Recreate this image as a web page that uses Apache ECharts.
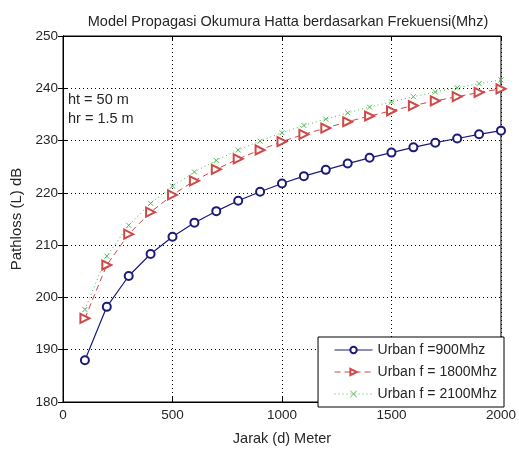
<!DOCTYPE html>
<html><head><meta charset="utf-8">
<script src="https://cdn.jsdelivr.net/npm/echarts@6/dist/echarts.min.js"></script>
<style>html,body{margin:0;padding:0;background:#fff}#c{width:519px;height:451px}</style>
</head><body><div id="c"></div>
<script>
var distances = [100,200,300,400,500,600,700,800,900,1000,1100,1200,1300,1400,1500,1600,1700,1800,1900,2000];
var urban900 = [188.0,198.2,204.1,208.3,211.6,214.3,216.5,218.5,220.2,221.8,223.2,224.4,225.6,226.7,227.7,228.7,229.6,230.4,231.2,231.9];
var urban1800 = [196.0,206.2,212.1,216.3,219.6,222.3,224.5,226.5,228.2,229.8,231.2,232.4,233.6,234.7,235.7,236.7,237.6,238.4,239.2,239.9];
var urban2100 = [197.7,207.9,213.8,218.0,221.3,224.0,226.2,228.2,229.9,231.5,232.9,234.1,235.3,236.4,237.4,238.4,239.3,240.1,240.9,241.6];
var seriesNames = ['Urban f =900Mhz','Urban f = 1800Mhz','Urban f = 2100Mhz'];
var titleText = 'Model Propagasi Okumura Hatta berdasarkan Frekuensi(Mhz)';
var xName = 'Jarak (d) Meter';
var yName = 'Pathloss (L) dB';
var notes = ['ht = 50 m','hr = 1.5 m'];

function pairs(ys){ return distances.map(function(d,i){ return [d, ys[i]]; }); }
var FONT = 'Liberation Sans, Arial, sans-serif';
var TXT = '#262626';
var chart = echarts.init(document.getElementById('c'));
var gridDot = {show:true, lineStyle:{color:'#000', type:[1,3], width:1}};
function plain(v){ return String(v); }
chart.setOption({
  animation:false,
  textStyle:{fontFamily:FONT},
  title:{text:titleText, left:283, textAlign:'center', top:9,
    textStyle:{fontSize:14.5, fontWeight:'normal', color:TXT, fontFamily:FONT}},
  grid:{left:63, right:15, top:36, bottom:44, show:true, borderColor:'#000', borderWidth:1, backgroundColor:'#fff'},
  xAxis:[{type:'value', min:0, max:2000, interval:500, name:xName, nameLocation:'middle', nameGap:29,
    nameTextStyle:{fontSize:14.5, color:TXT, verticalAlign:'top'},
    axisLine:{lineStyle:{color:'#000'}}, axisTick:{inside:true, length:5, lineStyle:{color:'#000'}},
    axisLabel:{fontSize:13.5, color:TXT, margin:6, formatter:plain}, splitLine:gridDot},
    {type:'value', position:'top', min:0, max:2000, interval:500, axisLine:{show:true,lineStyle:{color:'#000'}},
    axisTick:{inside:true,length:5,lineStyle:{color:'#000'}}, axisLabel:{show:false}, splitLine:{show:false}}],
  yAxis:[{type:'value', min:180, max:250, interval:10, name:yName, nameLocation:'middle', nameGap:31,
    nameTextStyle:{fontSize:15, color:TXT},
    axisLine:{show:true, lineStyle:{color:'#000'}}, axisTick:{show:true, inside:true, length:5, lineStyle:{color:'#000'}},
    axisLabel:{fontSize:13.5, color:TXT, margin:5, formatter:plain}, splitLine:gridDot},
    {type:'value', position:'right', min:180, max:250, interval:10, axisLine:{show:true,lineStyle:{color:'#000'}},
    axisTick:{show:true, inside:true,length:5,lineStyle:{color:'#000'}}, axisLabel:{show:false}, splitLine:{show:false}}],
  legend:{orient:'vertical', right:15, bottom:44, backgroundColor:'#fff', borderColor:'#000', borderWidth:1,
    padding:[6,7,6,16], itemWidth:38, itemHeight:8, itemGap:8,
    lineStyle:{width:1}, itemStyle:{borderWidth:1},
    textStyle:{fontSize:14, color:TXT, lineHeight:14}, data:seriesNames},
  graphic:[
    {type:'text', left:68, top:92, style:{text:notes[0], fontSize:14.5, fill:TXT, fontFamily:FONT}},
    {type:'text', left:68, top:111, style:{text:notes[1], fontSize:14.5, fill:TXT, fontFamily:FONT}}
  ],
  series:[
    {name:seriesNames[0], type:'line', data:pairs(urban900), symbol:'emptyCircle', symbolSize:8,
      lineStyle:{color:'#1c1c78', width:1.2}, itemStyle:{color:'#1c1c78', borderWidth:1.2}},
    {name:seriesNames[1], type:'line', data:pairs(urban1800), symbol:'emptyTriangle', symbolSize:9, symbolRotate:-90,
      lineStyle:{color:'#d04848', width:1, type:[6,4]}, itemStyle:{color:'#d04848', borderWidth:1}},
    {name:seriesNames[2], type:'line', data:pairs(urban2100), symbol:'path://M0,0L10,10M10,0L0,10', symbolSize:5,
      lineStyle:{color:'#4cbb4c', width:1, type:[1,3]}, itemStyle:{color:'none', borderColor:'#4cbb4c', borderWidth:1}}
  ]
});
</script></body></html>
